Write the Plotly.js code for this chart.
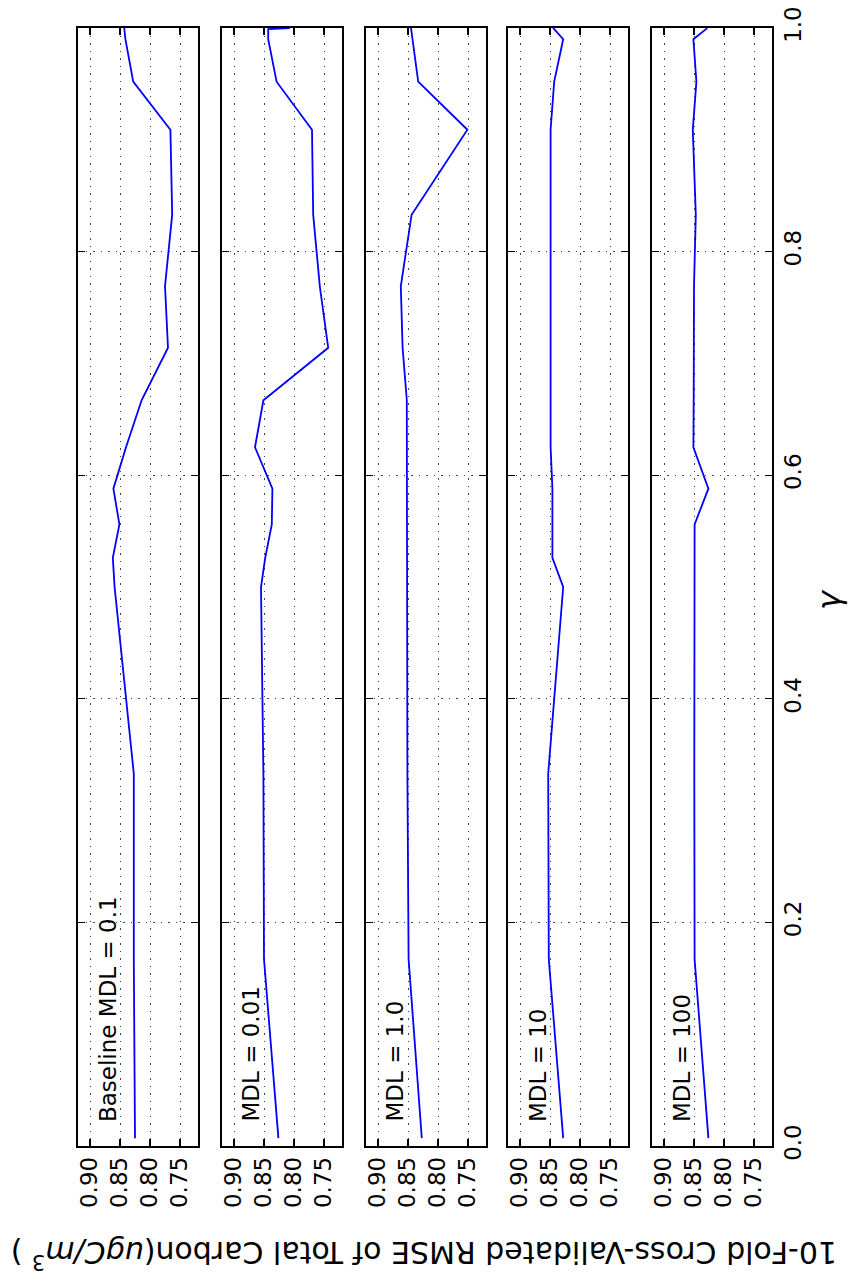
<!DOCTYPE html>
<html>
<head>
<meta charset="utf-8">
<script src="https://cdn.plot.ly/plotly-3.0.1.min.js"></script>
<style>
  html, body { margin: 0; padding: 0; background: #fff; }
  #chart { width: 849px; height: 1281px; }
</style>
</head>
<body>
<div id="chart"></div>
<script>
// Smoothing parameter gamma, shared by all panels
const gamma = [0.007, 0.167, 0.333, 0.5, 0.526, 0.556, 0.588, 0.625, 0.667, 0.714, 0.769, 0.833, 0.909, 0.952, 0.99, 0.999, 1.0];

// 10-fold cross-validated RMSE for each MDL setting
const rmseBaseline = [0.825, 0.827, 0.827, 0.859, 0.862, 0.851, 0.861, 0.840, 0.814, 0.770, 0.775, 0.763, 0.766, 0.828, 0.841, 0.843, 0.843];
const rmseMdl001   = [0.826, 0.850, 0.851, 0.855, 0.848, 0.837, 0.836, 0.865, 0.851, 0.743, 0.757, 0.768, 0.770, 0.829, 0.843, 0.843, 0.807];
const rmseMdl1     = [0.827, 0.849, 0.851, 0.851, 0.851, 0.852, 0.852, 0.852, 0.852, 0.859, 0.862, 0.844, 0.751, 0.833, 0.843, 0.845, 0.845];
const rmseMdl10    = [0.828, 0.852, 0.853, 0.828, 0.846, 0.846, 0.846, 0.849, 0.849, 0.849, 0.849, 0.849, 0.849, 0.843, 0.828, 0.843, 0.845];
const rmseMdl100   = [0.826, 0.849, 0.8495, 0.8495, 0.8495, 0.849, 0.826, 0.851, 0.8505, 0.8505, 0.850, 0.847, 0.852, 0.846, 0.851, 0.830, 0.828];

const panelLabels = ["Baseline MDL = 0.1", "MDL = 0.01", "MDL = 1.0", "MDL = 10", "MDL = 100"];
const panelSeries = [rmseBaseline, rmseMdl001, rmseMdl1, rmseMdl10, rmseMdl100];

const rmseTicks = [0.90, 0.85, 0.80, 0.75];
const rmseTickText = ["0.90", "0.85", "0.80", "0.75"];
const gammaTicks = [0, 0.2, 0.4, 0.6, 0.8, 1.0];
const gammaTickText = ["0.0", "0.2", "0.4", "0.6", "0.8", "1.0"];

const W = 849, H = 1281;
const FONT = "DejaVu Sans, Liberation Sans, sans-serif";

// Panel frames in pixels (left edge, width), shared top/bottom
const panelLeft = [78, 222, 366, 508, 652];
const panelWidth = 120;
const plotTop = 28, plotBottom = 1146;

const traces = [];
const layout = {
  width: W, height: H,
  margin: { l: 0, r: 0, t: 0, b: 0 },
  paper_bgcolor: "#ffffff",
  plot_bgcolor: "#ffffff",
  showlegend: false,
  font: { family: FONT, color: "#000", size: 23 },
  annotations: []
};

panelSeries.forEach((vals, i) => {
  const n = i === 0 ? "" : String(i + 1);
  traces.push({
    type: "scatter",
    mode: "lines",
    x: vals,
    y: gamma,
    xaxis: "x" + n,
    yaxis: "y" + n,
    line: { color: "#0000ff", width: 1.8 },
    hoverinfo: "skip"
  });

  layout["xaxis" + n] = {
    domain: [panelLeft[i] / W, (panelLeft[i] + panelWidth) / W],
    anchor: "y" + n,
    range: [0.92, 0.72],
    tickmode: "array",
    tickvals: rmseTicks,
    ticktext: rmseTickText,
    tickangle: -90,
    ticks: "inside",
    ticklen: 7,
    tickwidth: 1.2,
    tickcolor: "#000",
    showline: true,
    linecolor: "#000",
    linewidth: 1.6,
    mirror: "ticks",
    showgrid: true,
    gridcolor: "#444",
    gridwidth: 1,
    griddash: "1.5px,6px",
    zeroline: false,
    tickfont: { family: FONT, size: 23, color: "#000" },
    fixedrange: true
  };

  layout["yaxis" + n] = {
    domain: [1 - plotBottom / H, 1 - plotTop / H],
    anchor: "x" + n,
    range: [0, 1],
    side: "right",
    tickmode: "array",
    tickvals: gammaTicks,
    ticktext: gammaTickText,
    tickangle: -90,
    showticklabels: i === panelSeries.length - 1,
    ticks: "inside",
    ticklen: 7,
    tickwidth: 1.2,
    tickcolor: "#000",
    showline: true,
    linecolor: "#000",
    linewidth: 1.6,
    mirror: "ticks",
    showgrid: true,
    gridcolor: "#444",
    gridwidth: 1,
    griddash: "1.5px,6px",
    zeroline: false,
    tickfont: { family: FONT, size: 23, color: "#000" },
    fixedrange: true
  };

  layout.annotations.push({
    xref: "x" + n + " domain",
    yref: "y" + n + " domain",
    x: 0.245,
    y: 0.02,
    xanchor: "center",
    yanchor: "bottom",
    text: panelLabels[i],
    textangle: -90,
    showarrow: false,
    font: { family: FONT, size: 23, color: "#000" }
  });
});

// Shared axis titles
layout.annotations.push({
  xref: "paper", yref: "paper",
  x: 424 / W, y: 1 - 1255 / H,
  xanchor: "center", yanchor: "middle",
  text: "10-Fold Cross-Validated RMSE of Total Carbon(<i>ugC/m</i><sup>3</sup> )",
  textangle: 180,
  showarrow: false,
  font: { family: FONT, size: 30, color: "#000" }
});
layout.annotations.push({
  xref: "paper", yref: "paper",
  x: 829 / W, y: 1 - 600 / H,
  xanchor: "center", yanchor: "middle",
  text: "<i>γ</i>",
  textangle: -90,
  showarrow: false,
  font: { family: FONT, size: 32, color: "#000" }
});

Plotly.newPlot("chart", traces, layout, { staticPlot: true, displayModeBar: false });
</script>
</body>
</html>
